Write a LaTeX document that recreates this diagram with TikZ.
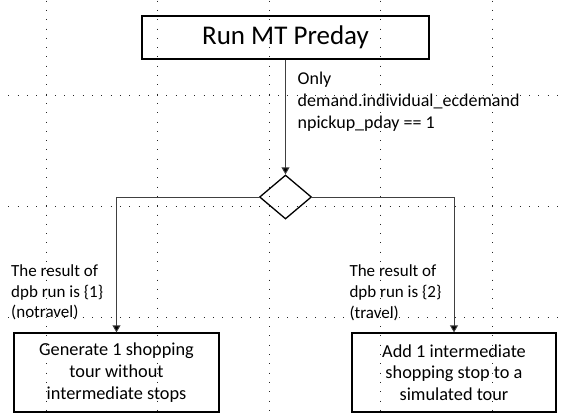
\documentclass[tikz,border=0pt]{standalone}
\usepackage{fontspec}
\setmainfont{Carlito}
\usetikzlibrary{shapes.geometric,arrows.meta}
\begin{document}
\begin{tikzpicture}[x=1pt,y=-1pt,
  gridline/.style={draw=black!85, line width=0.9pt, dash pattern=on 0.9pt off 8.4pt},
  box/.style={draw=black, line width=1.3pt, inner sep=0pt, align=center},
  conn/.style={draw=black!75, line width=0.9pt, -{Triangle[length=7pt,width=8pt,fill=black]}},
  lab/.style={inner sep=0pt, align=left, anchor=base west, font=\fontsize{17}{20.7}\selectfont},
]
\useasboundingbox (0,0) rectangle (562,416);
\foreach \x in {46,157.5,269,380.5,492} \draw[gridline] (\x,0.6) -- (\x,416);
\foreach \y in {95.5,206.2,317} \draw[gridline] (8.3,\y) -- (562,\y);

\node[box, minimum width=287pt, minimum height=43pt, font=\fontsize{27}{32}\selectfont] (mt) at (285.5,37.5) {Run MT Preday};
\node[draw=black, line width=1.3pt, diamond, minimum width=52pt, minimum height=44pt, inner sep=0pt] (dia) at (285.5,197) {};
\node[box, minimum width=205pt, minimum height=79pt, font=\fontsize{18.3}{21.7}\selectfont] (b1) at (116.5,372.5) {Generate 1 shopping\\tour without\\intermediate stops};
\node[box, minimum width=204pt, minimum height=79pt, font=\fontsize{18.3}{21.7}\selectfont] (b2) at (454,372.5) {Add 1 intermediate\\shopping stop to a\\simulated tour};

\draw[conn] (mt.south) -- (dia.north);
\draw[conn] (dia.west) -| (b1.north);
\draw[conn] (dia.east) -| (b2.north);

\node[lab, font=\fontsize{18}{21.7}\selectfont] (l0) at (297.5,128.3) {Only\\demand.individual\_ecdemand\\npickup\_pday == 1};
\node[lab] (l1) at (11,317.9) {The result of\\dpb run is \{1\}\\(notravel)};
\node[lab] (l2) at (349.3,318.3) {The result of\\dpb run is \{2\}\\(travel)};
\end{tikzpicture}
\end{document}
